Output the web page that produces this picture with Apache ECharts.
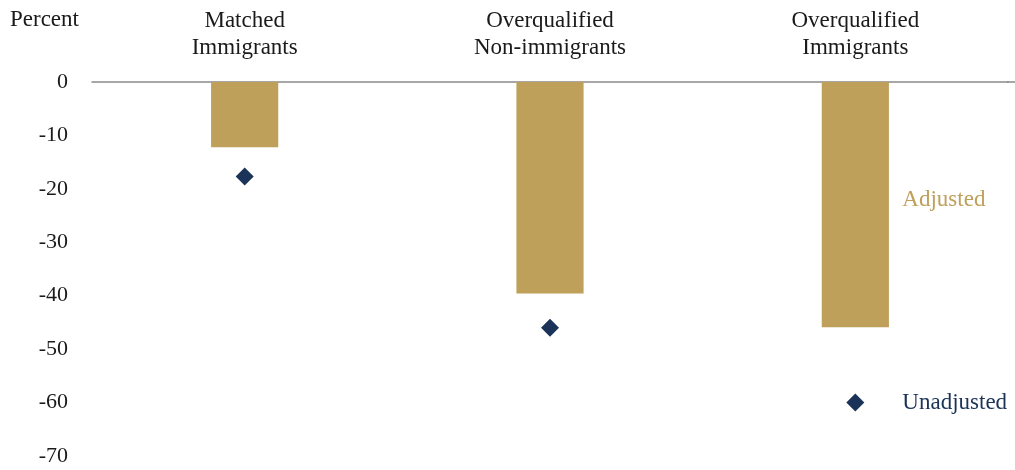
<!DOCTYPE html>
<html>
<head>
<meta charset="utf-8">
<script src="https://cdn.jsdelivr.net/npm/echarts@6/dist/echarts.min.js"></script>
<style>
  html, body { margin: 0; padding: 0; background: #fff; }
  #chart { width: 1015px; height: 470px; }
</style>
</head>
<body>
<div id="chart"></div>
<script>
// Wage gap relative to matched non-immigrants, percent
const categories = ['Matched\nImmigrants', 'Overqualified\nNon-immigrants', 'Overqualified\nImmigrants'];
const adjusted = [-12.2, -39.6, -45.9];
const unadjusted = [-17.7, -46.0, null];
const yTicks = { min: -70, max: 0, step: 10 };
// Inline key positions (category index, value)
const adjustedKey = [2, -22];
const unadjustedKey = [2, -60];

const GOLD = '#BFA05B';
const NAVY = '#1B3358';
const FONT = 'Liberation Serif';

const chart = echarts.init(document.getElementById('chart'), null, { renderer: 'canvas' });
chart.setOption({
  animation: false,
  textStyle: { fontFamily: FONT },
  grid: { left: 92, right: 7, top: 82, bottom: 14, containLabel: false },
  graphic: [
    {
      type: 'text', left: 10, top: 8,
      style: { text: 'Percent', font: '23px "' + FONT + '"', fill: '#1a1a1a' }
    },
    {
      // zero line runs on to the right edge
      type: 'line', shape: { x1: 1007, y1: 82, x2: 1015, y2: 82 },
      style: { stroke: '#8a8a8a', lineWidth: 1.5 }
    }
  ],
  xAxis: {
    type: 'category',
    position: 'top',
    data: categories,
    axisLine: { show: true, onZero: false, lineStyle: { color: '#8a8a8a', width: 1.5 } },
    axisTick: { show: false },
    axisLabel: { color: '#1a1a1a', fontSize: 23, lineHeight: 27, margin: 21, fontFamily: FONT }
  },
  yAxis: {
    type: 'value',
    min: yTicks.min, max: yTicks.max, interval: yTicks.step,
    axisLine: { show: false },
    axisTick: { show: false },
    splitLine: { show: false },
    axisLabel: { color: '#1a1a1a', fontSize: 22, margin: 24, fontFamily: FONT }
  },
  series: [
    {
      name: 'Adjusted', type: 'bar', data: adjusted, barWidth: '22%',
      itemStyle: { color: GOLD, opacity: 1 }, z: 2
    },
    {
      name: 'Unadjusted', type: 'scatter', data: unadjusted,
      symbol: 'diamond', symbolSize: 18, itemStyle: { color: NAVY, opacity: 1 }, z: 3
    },
    {
      name: 'Adjusted key', type: 'scatter', data: [adjustedKey],
      symbolSize: 0, silent: true, itemStyle: { opacity: 1 },
      label: { show: true, position: 'right', distance: 0, offset: [47, 0],
               formatter: 'Adjusted', color: GOLD, fontSize: 23, fontFamily: FONT }
    },
    {
      name: 'Unadjusted key', type: 'scatter', data: [unadjustedKey],
      symbol: 'diamond', symbolSize: 18, itemStyle: { color: NAVY, opacity: 1 }, silent: true,
      label: { show: true, position: 'right', distance: 38,
               formatter: 'Unadjusted', color: NAVY, fontSize: 23, fontFamily: FONT }
    }
  ]
});
</script>
</body>
</html>
